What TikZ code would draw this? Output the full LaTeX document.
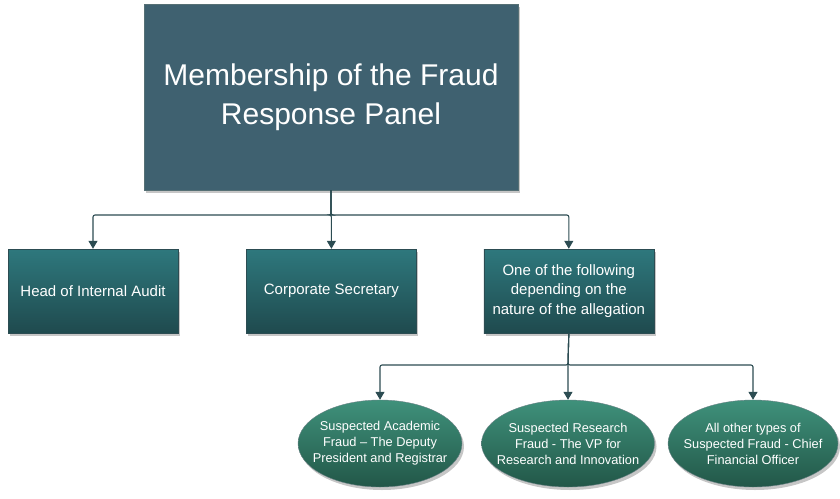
\documentclass[tikz,border=0pt]{standalone}
\usepackage{fontspec}
\setmainfont{Liberation Sans}
\usepackage{xcolor}
\usepackage{tikz}
\usetikzlibrary{arrows.meta,positioning,shapes.geometric,shadows}

\definecolor{panelblue}{HTML}{3F6170}
\definecolor{tealtop}{HTML}{2E787D}
\definecolor{tealbot}{HTML}{1F4A4E}
\definecolor{greentop}{HTML}{3F917B}
\definecolor{greenbot}{HTML}{225748}
\definecolor{linkcol}{HTML}{2C4C52}

\begin{document}
\begin{tikzpicture}[
  x=1pt,y=-1pt,
  node distance=68pt,
  panel/.style={draw=linkcol!80,fill=panelblue,text=white,align=center,minimum width=374pt,minimum height=186pt,
    font=\fontsize{30}{39}\selectfont,drop shadow={shadow xshift=2pt,shadow yshift=-3pt,opacity=0.45}},
  member/.style={draw=linkcol,top color=tealtop,bottom color=tealbot,text=white,align=center,
    minimum width=170pt,minimum height=84pt,font=\fontsize{15}{19.5}\selectfont,
    drop shadow={shadow xshift=2pt,shadow yshift=-3pt,opacity=0.45}},
  choice/.style={ellipse,draw=linkcol!70,top color=greentop,bottom color=greenbot,text=white,align=center,
    inner xsep=-14pt,inner ysep=0pt,minimum height=87pt,font=\fontsize{12.8}{16}\selectfont,
    drop shadow={shadow xshift=2pt,shadow yshift=-3pt,opacity=0.45}},
  arrow/.style={-{Triangle[length=8pt,width=9pt]},draw=linkcol,line width=1.1pt,rounded corners=2pt}
]
\useasboundingbox (0,0) rectangle (840,498);
\node[panel] (panel) at (331,97) {Membership of the Fraud\\Response Panel};
\node[member] (audit) at (93,291) {Head of Internal Audit};
\node[member,right=68pt of audit] (secretary) {Corporate Secretary};
\node[member,right=67pt of secretary] (depending) {One of the following\\depending on the\\nature of the allegation};
\node[choice,minimum width=164pt] (academic) at (380,443.5) {Suspected Academic\\Fraud -- The Deputy\\President and Registrar};
\node[choice,minimum width=173pt] (research) at (568,443.5) {Suspected Research\\Fraud - The VP for\\Research and Innovation};
\node[choice,minimum width=170pt] (other) at (753,443.5) {All other types of\\Suspected Fraud - Chief\\Financial Officer};
\coordinate (split) at (331,215);
\coordinate (fork) at (568,365);
\foreach \b in {audit,secretary,depending}
  \draw[arrow] (panel.south) -- (split) -| (\b.north);
\foreach \b in {academic,research,other}
  \draw[arrow] (depending.south) -- (fork) -| (\b.north);
\end{tikzpicture}
\end{document}
